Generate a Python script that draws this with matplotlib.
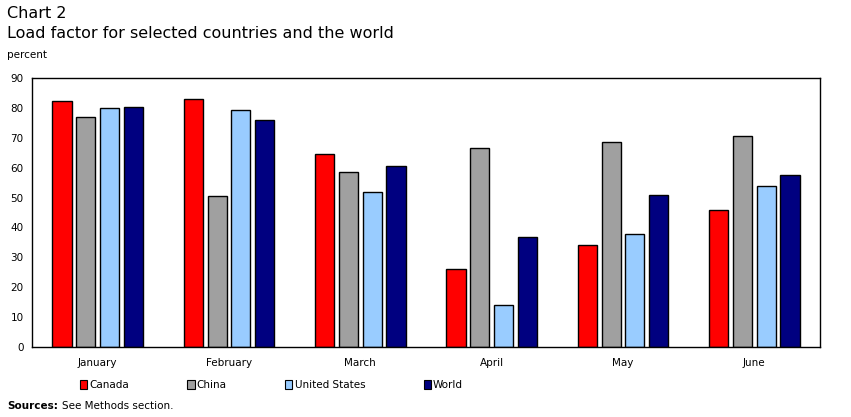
import matplotlib.pyplot as plt
import numpy as np
from matplotlib.patches import Patch

plt.rcParams['font.family'] = 'DejaVu Sans'

months = ['January', 'February', 'March', 'April', 'May', 'June']
canada = [82.3, 83.0, 64.6, 26.1, 34.1, 45.8]
china = [77.0, 50.5, 58.5, 66.6, 68.6, 70.6]
us = [80.0, 79.3, 51.9, 14.0, 37.8, 53.9]
world = [80.3, 76.0, 60.5, 36.8, 50.9, 57.5]

series = [('Canada', canada, '#ff0000'),
          ('China', china, '#a0a0a0'),
          ('United States', us, '#99ccff'),
          ('World', world, '#000080')]

fig = plt.figure(figsize=(8.51, 4.17), dpi=100)
ax = fig.add_axes([32/851, 1-347/417, 788/851, 269/417])

x = np.arange(len(months))
step = 0.181
width = 0.145
for i, (name, vals, col) in enumerate(series):
    ax.bar(x + (i-1.5)*step, vals, width, color=col, edgecolor='black', linewidth=1, label=name)

ax.set_xlim(-0.5, 5.5)
ax.set_ylim(0, 90)
ax.set_yticks(range(0, 91, 10))
ax.set_xticks(x)
ax.set_xticklabels(months)
ax.tick_params(length=0, labelsize=7.5, pad=8)
ax.tick_params(axis='y', pad=6)
for s in ax.spines.values():
    s.set_linewidth(1)

fig.text(7/851, 1-13/417, 'Chart 2', fontsize=11.5, va='center')
fig.text(7/851, 1-33/417, 'Load factor for selected countries and the world', fontsize=11.5, va='center')
fig.text(7/851, 1-55/417, 'percent', fontsize=7.5, va='center')

handles = [Patch(facecolor=c, edgecolor='black', linewidth=0.8) for _, _, c in series]
leg = fig.legend(handles, [n for n, _, _ in series], loc='center left', bbox_to_anchor=(80/851, 1-385/417),
                 ncol=4, frameon=False, fontsize=7.5, handlelength=0.7, handleheight=0.9,
                 handletextpad=0.2, columnspacing=5.6, borderpad=0, borderaxespad=0)

fig.text(7/851, 1-406/417, 'Sources:', fontsize=7.5, fontweight='bold', va='center')
fig.text(62/851, 1-406/417, 'See Methods section.', fontsize=7.5, va='center')

fig.savefig('out.png', dpi=100)
